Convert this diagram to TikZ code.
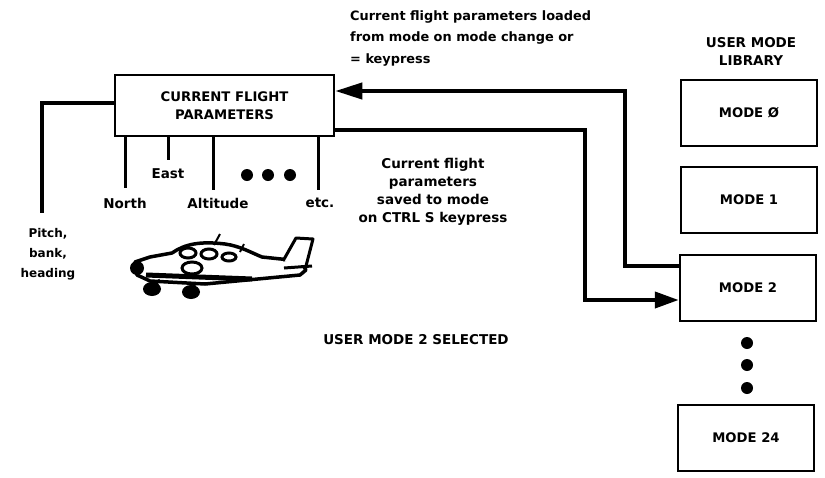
\documentclass[tikz,border=0pt]{standalone}
\usepackage{fontspec}
\setmainfont{DejaVu Sans}
\usetikzlibrary{arrows.meta}
\begin{document}
\begin{tikzpicture}[x=1pt,y=-1pt,
    txt/.style={font=\bfseries\fontsize{13.5}{18}\selectfont, inner sep=0pt},
    parbox/.style={draw, line width=2.5pt, minimum width=219pt, minimum height=61pt,
        align=center, font=\bfseries\fontsize{13.2}{18}\selectfont},
    modebox/.style={draw, line width=2.5pt, minimum width=136pt, minimum height=66pt,
        font=\bfseries\fontsize{13.2}{15}\selectfont},
    conn/.style={line width=4pt},
    stem/.style={line width=3pt}]
    \useasboundingbox (0,0) rectangle (825,477);
    % flight parameter box and its outputs
    \node[parbox] (cfp) at (224.5,105.5) {CURRENT FLIGHT\\PARAMETERS};
    \path (42,103) coordinate (pbend);
    \path (42,213) coordinate (pend);
    \draw[conn] (cfp.west |- pbend) -- (pbend) -- (pend);
    \path (125,188) coordinate (nend);
    \path (168,160) coordinate (eend);
    \path (213,190) coordinate (aend);
    \path (318,190) coordinate (xend);
    \draw[stem] (cfp.south -| nend) -- (nend);
    \draw[stem] (cfp.south -| eend) -- (eend);
    \draw[stem] (cfp.south -| aend) -- (aend);
    \draw[stem] (cfp.south -| xend) -- (xend);
    \node[txt] (north) at (125,203) {North};
    \node[txt] (east) at (168,174) {East};
    \node[txt] (alt) at (218,203) {Altitude};
    \node[txt] (etc) at (320,203) {etc.};
    \foreach \x in {247,268,290}
        \fill (\x,175) circle (6);
    \node[txt, align=center, font=\bfseries\fontsize{12}{20}\selectfont] (pbh) at (48,254) {Pitch,\\bank,\\heading};
    % user mode library
    \node[txt, align=center] (lib) at (751,51) {USER MODE\\LIBRARY};
    \node[modebox] (mode0) at (749,113) {MODE Ø};
    \node[modebox] (mode1) at (749,200) {MODE 1};
    \node[modebox] (mode2) at (748,288) {MODE 2};
    \node[modebox] (mode24) at (746,438) {MODE 24};
    \foreach \y in {343,365,388}
        \fill (747,\y) circle (6);
    % loading and saving paths
    \path (625,91) coordinate (inbend);
    \path (585,130) coordinate (outbend);
    \draw[conn, -{Triangle[length=27pt,width=16pt]}] ([yshift=22pt]mode2.west) -| (inbend) -- (cfp.east |- inbend);
    \draw[conn, -{Triangle[length=24pt,width=16pt]}] (cfp.east |- outbend) -- (outbend) |- ([yshift=-12pt]mode2.west);
    \node[txt, align=left, anchor=north west, font=\bfseries\fontsize{12.9}{21.5}\selectfont] (loadtxt) at (350,10)
        {Current flight parameters loaded\\from mode on mode change or\\= keypress};
    \node[txt, align=center] (savetxt) at (433,192) {Current flight\\parameters\\saved to mode\\on CTRL S keypress};
    \node[txt] (sel) at (416,340) {USER MODE 2 SELECTED};
    % airplane
    \draw[line width=3.5pt, fill=white, line join=round] (135,262) -- (150,257) -- (172,253)
        .. controls (185,244) and (200,241) .. (225,244)
        .. controls (240,246) and (252,253) .. (262,257) -- (300,261) -- (306,270)
        -- (300,275) -- (205,284) -- (150,281) -- (137,275) -- cycle;
    \draw[line width=3pt, fill=white, line join=round] (283,261) -- (296,238) -- (313,239) -- (306,266);
    \draw[line width=3pt] (284,268) -- (312,266);
    \draw[line width=5pt] (146,275) -- (252,279);
    \fill (137,268) circle (7);
    \draw[line width=3pt, fill=white] (188,253) ellipse (8 and 5);
    \draw[line width=3pt, fill=white] (209,254) ellipse (8 and 5);
    \draw[line width=3pt, fill=white] (229,257) ellipse (7 and 4);
    \draw[line width=3pt, fill=white] (192,268) ellipse (10 and 6);
    \draw[line width=2pt] (214,245) -- (220,234);
    \draw[line width=2pt] (240,252) -- (244,244);
    \draw[line width=3pt] (160,280) -- (153,286);
    \draw[line width=3pt] (195,283) -- (193,288);
    \fill (152,289) ellipse (9 and 7);
    \fill (191,292) ellipse (9 and 7);
\end{tikzpicture}
\end{document}
